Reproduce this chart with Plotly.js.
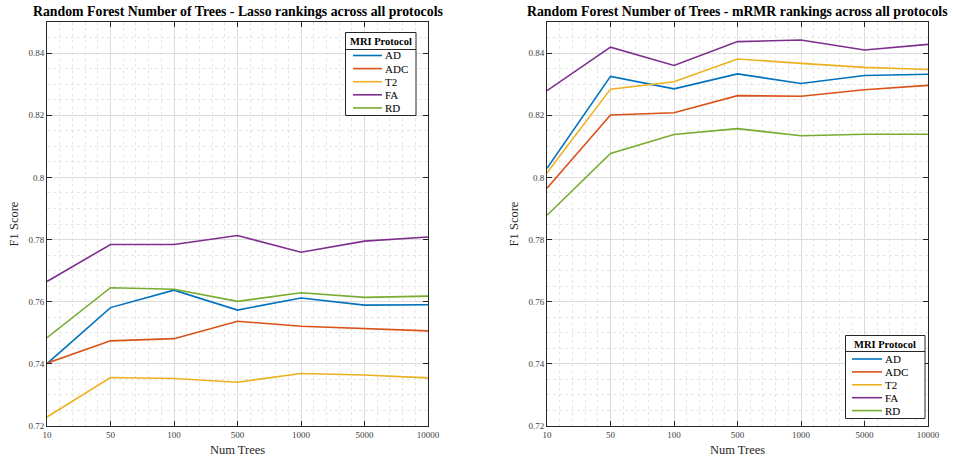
<!DOCTYPE html>
<html>
<head>
<meta charset="utf-8">
<script src="https://cdn.plot.ly/plotly-3.0.1.min.js"></script>
<style>html,body{margin:0;padding:0;background:#fff;}#chart{width:953px;height:461px;}</style>
</head>
<body>
<div id="chart"></div>
<script>
const trees = ['10', '50', '100', '500', '1000', '5000', '10000'];
const protocols = ['AD', 'ADC', 'T2', 'FA', 'RD'];
const colors = ['#0072BD', '#D95319', '#EDB120', '#7E2F8E', '#77AC30'];

// Lasso rankings
const lassoAD  = [0.7401, 0.7581, 0.7637, 0.7573, 0.7612, 0.7589, 0.7590];
const lassoADC = [0.7402, 0.7474, 0.7481, 0.7537, 0.7521, 0.7513, 0.7506];
const lassoT2  = [0.7229, 0.7356, 0.7353, 0.7341, 0.7369, 0.7364, 0.7355];
const lassoFA  = [0.7665, 0.7784, 0.7784, 0.7813, 0.7759, 0.7795, 0.7808];
const lassoRD  = [0.7484, 0.7645, 0.7640, 0.7601, 0.7629, 0.7614, 0.7618];

// mRMR rankings
const mrmrAD  = [0.8029, 0.8325, 0.8285, 0.8333, 0.8302, 0.8328, 0.8332];
const mrmrADC = [0.7965, 0.8201, 0.8208, 0.8263, 0.8261, 0.8282, 0.8296];
const mrmrT2  = [0.8015, 0.8284, 0.8308, 0.8381, 0.8367, 0.8354, 0.8347];
const mrmrFA  = [0.8279, 0.8419, 0.8360, 0.8437, 0.8442, 0.8410, 0.8428];
const mrmrRD  = [0.7878, 0.8077, 0.8138, 0.8157, 0.8134, 0.8139, 0.8139];

const yTicks = [0.72, 0.74, 0.76, 0.78, 0.8, 0.82, 0.84];
const yTickText = ['0.72', '0.74', '0.76', '0.78', '0.8', '0.82', '0.84'];

const lassoSeries = [lassoAD, lassoADC, lassoT2, lassoFA, lassoRD];
const mrmrSeries = [mrmrAD, mrmrADC, mrmrT2, mrmrFA, mrmrRD];
const xIdx = trees.map((t, i) => i);

const W = 953, H = 461;
const FONT = 'Liberation Serif, Times New Roman, serif';
const traces = [];
lassoSeries.forEach((s, k) => traces.push({
  x: xIdx, y: s, type: 'scatter', mode: 'lines', name: protocols[k],
  line: {color: colors[k], width: 1.6}, xaxis: 'x', yaxis: 'y', showlegend: false
}));
mrmrSeries.forEach((s, k) => traces.push({
  x: xIdx, y: s, type: 'scatter', mode: 'lines', name: protocols[k],
  line: {color: colors[k], width: 1.6}, xaxis: 'x2', yaxis: 'y2', showlegend: false
}));

function xax(domain, anchor) {
  return {
    domain: domain, anchor: anchor, range: [0, trees.length - 1],
    tickmode: 'array', tickvals: xIdx, ticktext: trees,
    ticks: 'inside', ticklen: 5, tickcolor: '#262626', tickwidth: 1,
    showline: true, linecolor: '#262626', linewidth: 1, mirror: 'ticks',
    showgrid: true, gridcolor: '#dcdcdc', gridwidth: 1, zeroline: false,
    minor: {tickmode: 'linear', tick0: 0, dtick: 0.2, showgrid: true, gridcolor: '#e6e6e6', griddash: 'dot', gridwidth: 1, ticks: ''},
    tickfont: {family: FONT, size: 9, color: '#404040'},
    title: {text: 'Num Trees', font: {family: FONT, size: 12.5, color: '#262626'}, standoff: 6}
  };
}
function yax(anchor) {
  return {
    domain: [1 - 426 / H, 1 - 22 / H], anchor: anchor, range: [0.72, 0.85],
    tickmode: 'array', tickvals: yTicks, ticktext: yTickText,
    ticks: 'inside', ticklen: 5, tickcolor: '#262626', tickwidth: 1,
    showline: true, linecolor: '#262626', linewidth: 1, mirror: 'ticks',
    showgrid: true, gridcolor: '#dcdcdc', gridwidth: 1, zeroline: false,
    minor: {tickmode: 'linear', tick0: 0.72, dtick: 0.005, showgrid: true, gridcolor: '#e6e6e6', griddash: 'dot', gridwidth: 1, ticks: ''},
    tickfont: {family: FONT, size: 9, color: '#404040'},
    title: {text: 'F1 Score', font: {family: FONT, size: 12.5, color: '#262626'}, standoff: 7}
  };
}

const shapes = [];
const annotations = [];
const px = v => v / W;
const py = v => 1 - v / H;

// custom legend box (pixel geometry)
function addLegend(left, right, top, bottom, titleY, sepY, firstY, step, lineX0, lineX1, textX) {
  shapes.push({type: 'rect', xref: 'paper', yref: 'paper', x0: px(left), x1: px(right), y0: py(bottom), y1: py(top),
    line: {color: '#262626', width: 1}, fillcolor: '#ffffff', layer: 'above'});
  shapes.push({type: 'line', xref: 'paper', yref: 'paper', x0: px(left), x1: px(right), y0: py(sepY), y1: py(sepY),
    line: {color: '#262626', width: 1}, layer: 'above'});
  annotations.push({text: '<b>MRI Protocol</b>', xref: 'paper', yref: 'paper', x: px((left + right) / 2), y: py(titleY),
    xanchor: 'center', yanchor: 'middle', showarrow: false, font: {family: FONT, size: 10.5, color: '#000'}});
  protocols.forEach((p, k) => {
    const yy = firstY + k * step;
    shapes.push({type: 'line', xref: 'paper', yref: 'paper', x0: px(lineX0), x1: px(lineX1), y0: py(yy), y1: py(yy),
      line: {color: colors[k], width: 1.6}, layer: 'above'});
    annotations.push({text: p, xref: 'paper', yref: 'paper', x: px(textX), y: py(yy),
      xanchor: 'left', yanchor: 'middle', showarrow: false, font: {family: FONT, size: 11, color: '#000'}});
  });
}
addLegend(345.5, 416, 32.5, 115.5, 41.5, 49.5, 55.5, 13.1, 353, 382, 383);
addLegend(845.5, 925, 335.5, 418.5, 344, 351.5, 359, 12.9, 852, 882, 883);

annotations.push(
  {text: '<b>Random Forest Number of Trees - Lasso rankings across all protocols</b>', xref: 'paper', yref: 'paper',
   x: px(237.5), y: py(12), xanchor: 'center', yanchor: 'middle', showarrow: false,
   font: {family: FONT, size: 13.8, color: '#000'}},
  {text: '<b>Random Forest Number of Trees - mRMR rankings across all protocols</b>', xref: 'paper', yref: 'paper',
   x: px(737.5), y: py(12), xanchor: 'center', yanchor: 'middle', showarrow: false,
   font: {family: FONT, size: 13.8, color: '#000'}}
);

const layout = {
  width: W, height: H,
  paper_bgcolor: '#ffffff', plot_bgcolor: '#ffffff',
  margin: {l: 0, r: 0, t: 0, b: 0},
  showlegend: false,
  xaxis: xax([px(47), px(428)], 'y'),
  yaxis: yax('x'),
  xaxis2: xax([px(547), px(928)], 'y2'),
  yaxis2: yax('x2'),
  shapes: shapes,
  annotations: annotations
};

Plotly.newPlot('chart', traces, layout, {displayModeBar: false, staticPlot: true});
</script>
</body>
</html>
